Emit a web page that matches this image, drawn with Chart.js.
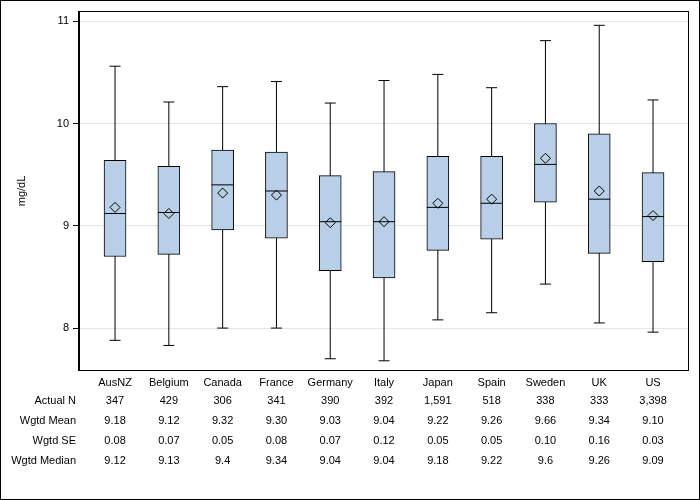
<!DOCTYPE html>
<html lang="en">

<head>
    <meta charset="UTF-8">
    <title>Box plot mg/dL by country</title>
    <script src="https://cdn.jsdelivr.net/npm/chart.js"></script>
    <style>
        body {
            margin: 0;
            background-color: #ffffff;
        }

        canvas {
            display: block;
        }
    </style>
</head>

<body>
    <canvas id="boxChart" width="700" height="500"></canvas>

    <script>
        // Countries along the x axis
        const categories = ['AusNZ', 'Belgium', 'Canada', 'France', 'Germany', 'Italy', 'Japan', 'Spain', 'Sweden', 'UK', 'US'];

        // Box plot values
        const lowWhisker = [7.88, 7.83, 8.00, 8.00, 7.70, 7.68, 8.08, 8.15, 8.43, 8.05, 7.96];
        const q1 = [8.70, 8.72, 8.96, 8.88, 8.56, 8.49, 8.76, 8.87, 9.23, 8.73, 8.65];
        const medians = [9.12, 9.13, 9.40, 9.34, 9.04, 9.04, 9.18, 9.22, 9.60, 9.26, 9.09];
        const q3 = [9.64, 9.58, 9.74, 9.72, 9.49, 9.53, 9.68, 9.68, 10.00, 9.90, 9.52];
        const highWhisker = [10.56, 10.21, 10.36, 10.41, 10.20, 10.42, 10.48, 10.35, 10.81, 10.96, 10.23];
        const means = [9.18, 9.12, 9.32, 9.30, 9.03, 9.04, 9.22, 9.26, 9.66, 9.34, 9.10];

        // Table under the plot
        const actualN = ['347', '429', '306', '341', '390', '392', '1,591', '518', '338', '333', '3,398'];
        const wgtdMean = ['9.18', '9.12', '9.32', '9.30', '9.03', '9.04', '9.22', '9.26', '9.66', '9.34', '9.10'];
        const wgtdSE = ['0.08', '0.07', '0.05', '0.08', '0.07', '0.12', '0.05', '0.05', '0.10', '0.16', '0.03'];
        const wgtdMedian = ['9.12', '9.13', '9.4', '9.34', '9.04', '9.04', '9.18', '9.22', '9.6', '9.26', '9.09'];

        const yTicks = [8, 9, 10, 11];

        const tableRows = [
            { label: 'Actual N', values: actualN },
            { label: 'Wgtd Mean', values: wgtdMean },
            { label: 'Wgtd SE', values: wgtdSE },
            { label: 'Wgtd Median', values: wgtdMedian }
        ];

        const FONT = '"Liberation Sans", Arial, sans-serif';
        const BOX_FILL = '#b9cfe7';

        // whisker segments, broken with gaps between countries
        const whiskerData = [];
        categories.forEach((c, i) => {
            whiskerData.push({ x: i, y: lowWhisker[i] });
            whiskerData.push({ x: i, y: highWhisker[i] });
            whiskerData.push({ x: i, y: null });
        });

        const caps = [];
        categories.forEach((c, i) => {
            caps.push({ x: i, y: lowWhisker[i] });
            caps.push({ x: i, y: highWhisker[i] });
        });

        // draws the plot frame, the image border and the stats table
        const framePlugin = {
            id: 'framePlugin',
            afterDraw(chart) {
                const { ctx, chartArea: a } = chart;
                const xScale = chart.scales.x;
                ctx.save();
                ctx.strokeStyle = '#000';
                ctx.lineWidth = 1;
                ctx.strokeRect(Math.round(a.left) - 0.5, Math.round(a.top) - 0.5,
                    Math.round(a.right - a.left) + 1, Math.round(a.bottom - a.top) + 1);
                ctx.strokeRect(0.5, 0.5, chart.width - 1, chart.height - 1);

                ctx.font = '11px ' + FONT;
                ctx.fillStyle = '#000';
                ctx.textBaseline = 'middle';
                tableRows.forEach((row, r) => {
                    const y = 401 + r * 20;
                    ctx.textAlign = 'right';
                    ctx.fillText(row.label, 76, y);
                    ctx.textAlign = 'center';
                    row.values.forEach((v, i) => {
                        ctx.fillText(v, xScale.getPixelForValue(i), y);
                    });
                });
                ctx.restore();
            }
        };

        const ctx = document.getElementById('boxChart').getContext('2d');

        new Chart(ctx, {
            type: 'bar',
            data: {
                datasets: [
                    {
                        type: 'scatter',
                        label: 'Mean',
                        data: categories.map((c, i) => ({ x: i, y: means[i] })),
                        pointStyle: 'rectRot',
                        pointRadius: 5,
                        pointBorderColor: '#000',
                        pointBackgroundColor: 'rgba(0,0,0,0)',
                        pointBorderWidth: 1,
                        order: 0
                    },
                    {
                        type: 'scatter',
                        label: 'Median',
                        data: categories.map((c, i) => ({ x: i, y: medians[i] })),
                        pointStyle: 'line',
                        pointRadius: 11,
                        pointBorderColor: '#000',
                        pointBorderWidth: 1,
                        order: 1
                    },
                    {
                        type: 'scatter',
                        label: 'Caps',
                        data: caps,
                        pointStyle: 'line',
                        pointRadius: 5.5,
                        pointBorderColor: '#000',
                        pointBorderWidth: 1,
                        order: 2
                    },
                    {
                        type: 'bar',
                        label: 'Box',
                        data: categories.map((c, i) => ({ x: i, y: [q1[i], q3[i]] })),
                        backgroundColor: BOX_FILL,
                        borderColor: '#000',
                        borderWidth: 1,
                        borderSkipped: false,
                        barThickness: 22,
                        order: 3
                    },
                    {
                        type: 'scatter',
                        label: 'Whisker',
                        data: whiskerData,
                        showLine: true,
                        spanGaps: false,
                        borderColor: '#000',
                        borderWidth: 1,
                        pointRadius: 0,
                        order: 4
                    }
                ]
            },
            options: {
                responsive: false,
                animation: false,
                layout: {
                    padding: { left: 0, top: 11, right: 12, bottom: 0 }
                },
                plugins: {
                    legend: { display: false },
                    tooltip: { enabled: false }
                },
                scales: {
                    x: {
                        type: 'linear',
                        offset: false,
                        min: -0.67,
                        max: 10.65,
                        afterBuildTicks: scale => {
                            scale.ticks = categories.map((c, i) => ({ value: i }));
                        },
                        afterFit: scale => { scale.height = 130; },
                        grid: { display: false, drawTicks: false },
                        border: { color: '#000' },
                        ticks: {
                            padding: 6,
                            autoSkip: false,
                            maxRotation: 0,
                            color: '#000',
                            font: { family: FONT, size: 11 },
                            callback: value => categories[value]
                        }
                    },
                    y: {
                        min: 7.59,
                        max: 11.09,
                        afterBuildTicks: scale => {
                            scale.ticks = yTicks.map(v => ({ value: v }));
                        },
                        afterFit: scale => { scale.width = 79; },
                        grid: { color: '#e6e6e6', tickColor: '#000', tickLength: 6 },
                        border: { color: '#000' },
                        ticks: {
                            padding: 4,
                            color: '#000',
                            font: { family: FONT, size: 11 }
                        },
                        title: {
                            display: true,
                            text: 'mg/dL',
                            color: '#000',
                            font: { family: FONT, size: 11 },
                            padding: { top: 15, bottom: 0 }
                        }
                    }
                }
            },
            plugins: [framePlugin]
        });
    </script>
</body>

</html>
